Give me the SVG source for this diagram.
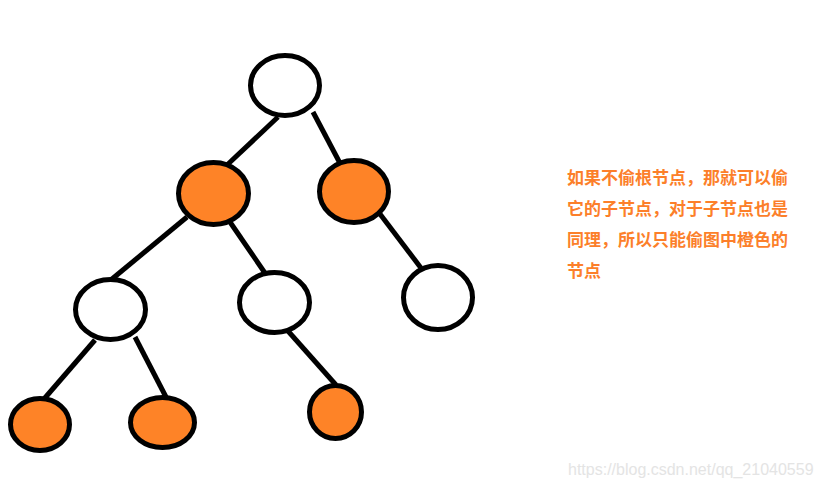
<svg xmlns="http://www.w3.org/2000/svg" width="824" height="488" viewBox="0 0 824 488">
<style>
.edge{stroke:#000;stroke-width:5;stroke-linecap:butt;fill:none}
.node{stroke:#000;stroke-width:5}
.w{fill:#fff}
.o{fill:#fe8327}
.note{font-family:"Noto Sans CJK SC","Noto Sans",sans-serif;font-weight:bold;font-size:17px;fill:#fc7f2a}
.wm{font-family:"Liberation Sans",Arial,sans-serif;font-size:16px;fill:#e4e4e4}
</style>
<rect width="824" height="488" fill="#fff"/>
<g id="edges">
<line class="edge" x1="278" y1="117" x2="227" y2="165"/>
<line class="edge" x1="313" y1="112" x2="342" y2="167"/>
<line class="edge" x1="187" y1="217" x2="112" y2="279"/>
<line class="edge" x1="230" y1="222" x2="267" y2="276"/>
<line class="edge" x1="380" y1="214" x2="421" y2="268"/>
<line class="edge" x1="95" y1="340" x2="44" y2="399"/>
<line class="edge" x1="135" y1="337" x2="166" y2="397"/>
<line class="edge" x1="288" y1="331" x2="336" y2="385"/>
</g>
<g id="n-root"><ellipse class="node w" cx="285" cy="85.5" rx="34.5" ry="30"/></g>
<g id="n-l"><ellipse class="node o" cx="213.5" cy="193.5" rx="35" ry="31"/></g>
<g id="n-r"><ellipse class="node o" cx="354" cy="191.5" rx="34.5" ry="31"/></g>
<g id="n-ll"><ellipse class="node w" cx="110.5" cy="309.5" rx="35" ry="30"/></g>
<g id="n-lr"><ellipse class="node w" cx="274.5" cy="302.5" rx="35" ry="30"/></g>
<g id="n-rr"><ellipse class="node w" cx="438" cy="297.5" rx="34.5" ry="32"/></g>
<g id="n-lll"><ellipse class="node o" cx="40" cy="424.5" rx="29.5" ry="26"/></g>
<g id="n-llr"><ellipse class="node o" cx="162.5" cy="422.5" rx="32" ry="25"/></g>
<g id="n-lrr"><ellipse class="node o" cx="335.5" cy="412" rx="26" ry="26.5"/></g>
<g id="note">
<text class="note" x="567" y="184">如果不偷根节点，那就可以偷</text>
<text class="note" x="567" y="215">它的子节点，对于子节点也是</text>
<text class="note" x="567" y="246">同理，所以只能偷图中橙色的</text>
<text class="note" x="567" y="277">节点</text>
</g>
<text class="wm" x="568" y="475">https://blog.csdn.net/qq_21040559</text>
</svg>
